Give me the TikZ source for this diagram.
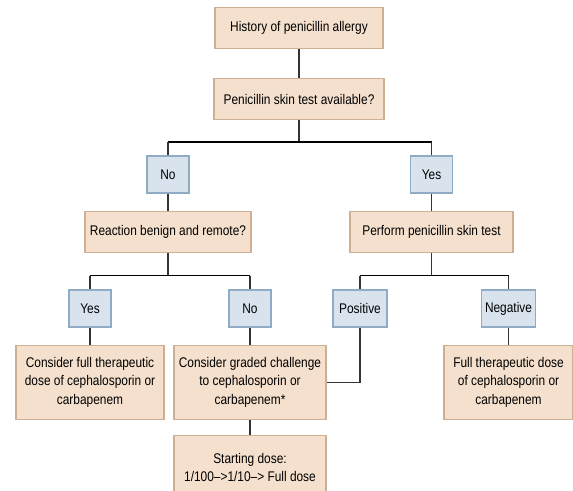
\documentclass[tikz,border=0pt]{standalone}
\usepackage{fontspec}
\setmainfont{Liberation Sans}[FakeStretch=0.85]
\usetikzlibrary{positioning}

\definecolor{tanfill}{HTML}{F4E0CD}
\definecolor{tanedge}{HTML}{CDAF94}
\definecolor{bluefill}{HTML}{D9E3EE}
\definecolor{blueedge}{HTML}{8FABC5}
\definecolor{linegray}{HTML}{333333}

\begin{document}
\begin{tikzpicture}[
  x=1pt, y=1pt,
  node distance=17pt,
  query/.style={draw=tanedge, line width=1.2pt, fill=tanfill, align=center, minimum height=41pt, inner sep=2pt, font=\fontsize{14}{18.5}\selectfont},
  answer/.style={draw=blueedge, line width=1.2pt, fill=bluefill, align=center, minimum width=42pt, minimum height=37pt, inner sep=2pt, font=\fontsize{14}{18.5}\selectfont},
  link/.style={draw=linegray, line width=1.1pt},
  rail/.style={draw=black, line width=1.3pt},
  bar/.style={draw=black, line width=1.8pt}
]
\useasboundingbox (0,0) rectangle (573,-490);
\clip (0,0) rectangle (573,-490);

\node[query, minimum width=168pt] (history) at (299,-28) {History of penicillin allergy};
\node[query, minimum width=170pt, below=29pt of history] (skintest) {Penicillin skin test available?};

\node[answer] (noA) at (168,-174.5) {No};
\node[query, minimum width=166pt, below=of noA] (benign) {Reaction benign and remote?};
\node[answer] (yesA) at (431.5,-174.5) {Yes};
\node[query, minimum width=163pt, below=of yesA] (perform) {Perform penicillin skin test};

\node[answer] (yesB) at (90,-308.5) {Yes};
\node[answer] (noB) at (250,-308.5) {No};
\node[answer, minimum width=54pt] (positive) at (360,-308.5) {Positive};
\node[answer, minimum width=54pt] (negative) at (508.5,-308.5) {Negative};

\node[query, minimum width=148pt, minimum height=74pt, below=of yesB] (fullA) {Consider full therapeutic\\dose of cephalosporin or\\carbapenem};
\node[query, minimum width=152pt, minimum height=74pt, below=of noB] (graded) {Consider graded challenge\\to cephalosporin or\\carbapenem*};
\node[query, minimum width=129pt, minimum height=74pt, below=of negative] (fullB) {Full therapeutic dose\\of cephalosporin or\\carbapenem};
\node[query, minimum width=152pt, minimum height=64pt, below=15pt of graded] (startdose) {Starting dose:\\1/100\textendash>1/10\textendash> Full dose};

% forks
\path (skintest.south) ++(0,-22) coordinate (forkTop);
\path (benign.south) ++(0,-23) coordinate (forkNo);
\path (perform.south) ++(0,-23) coordinate (forkYes);

\draw[link] (history) -- (skintest);
\draw[link] (skintest) -- (forkTop);
\draw[bar] (noA |- forkTop) -- (yesA |- forkTop);
\draw[link] (noA |- forkTop) -- (noA);
\draw[link] (yesA |- forkTop) -- (yesA);
\draw[link] (noA) -- (benign);
\draw[link] (yesA) -- (perform);

\draw[link] (benign) -- (forkNo);
\draw[rail] (yesB |- forkNo) -- (noB |- forkNo);
\draw[link] (yesB |- forkNo) -- (yesB);
\draw[link] (noB |- forkNo) -- (noB);

\draw[link] (perform) -- (forkYes);
\draw[rail] (positive |- forkYes) -- (negative |- forkYes);
\draw[link] (positive |- forkYes) -- (positive);
\draw[link] (negative |- forkYes) -- (negative);

\draw[link] (yesB) -- (fullA);
\draw[link] (noB) -- (graded);
\draw[link] (graded) -- (startdose);
\draw[link] (negative) -- (fullB);
\draw[link] (positive) |- (graded.east);
\end{tikzpicture}
\end{document}
